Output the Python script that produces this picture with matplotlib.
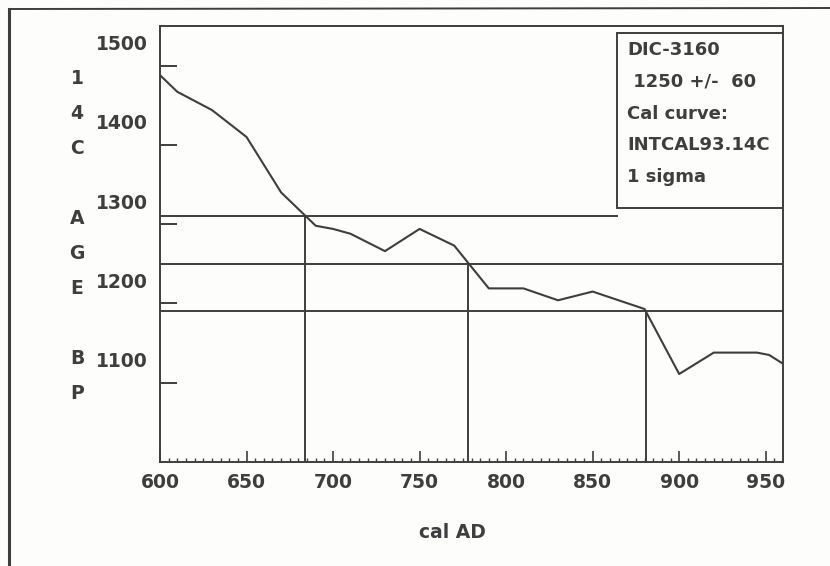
import numpy as np
import matplotlib.pyplot as plt
import matplotlib.transforms as mtransforms
from matplotlib.lines import Line2D
from matplotlib.patches import Rectangle

# Calibration curve (INTCAL93).
cal_ad = [600, 610, 630, 650, 670, 690, 700, 710, 730, 750, 770, 790,
          810, 830, 850, 880, 900, 920, 945, 952, 960]
c14_age = [1488, 1467, 1444, 1410, 1340, 1298, 1294, 1288, 1266, 1294, 1273, 1219,
           1219, 1204, 1215, 1193, 1111, 1138, 1138, 1135, 1124]

# Measured age 1250 +/- 60, 1 sigma band and the intercepts with the curve.
age_levels = [1310, 1250, 1190]
intercepts = [684, 778, 881]

x_ticks = [600, 650, 700, 750, 800, 850, 900, 950]
y_ticks = [1100, 1200, 1300, 1400, 1500]
info_lines = ['DIC-3160', ' 1250 +/-  60', 'Cal curve:', 'INTCAL93.14C', '1 sigma']

ink = '#3e3e3e'
W, H = 830, 566

fig = plt.figure(figsize=(8.3, 5.66), dpi=100, facecolor='#fdfdfb')
ax = fig.add_axes([160 / W, 1 - 462 / H, 623 / W, 436 / H])
ax.set_facecolor('#fdfdfb')

# Outer frame (left and top edges of the scanned page).
fig.add_artist(Line2D([9 / W, 9 / W], [0, 1 - 9 / H], color=ink, lw=2.2))
fig.add_artist(Line2D([9 / W, 1], [1 - 9 / H, 1 - 8 / H], color=ink, lw=1.4))

ax.plot(cal_ad, c14_age, color=ink, lw=1.5)

# Info box in the upper right corner.
box_x0, box_y0, box_y1 = (617 - 160) / 623, (462 - 208) / 436, (462 - 33) / 436
ax.add_patch(Rectangle((box_x0, box_y0), 1 - box_x0, box_y1 - box_y0,
                       transform=ax.transAxes, fill=False, ec=ink, lw=1.4, zorder=5))
for i, line in enumerate(info_lines):
    ax.text((627 - 160) / 623, (462 - 50 - i * 31.8) / 436, line, transform=ax.transAxes,
            ha='left', va='center', fontsize=13, fontweight='bold', color=ink)

# Horizontal lines for the age and its 1 sigma limits; the upper stops at the box.
ax.axhline(age_levels[0], xmin=0, xmax=box_x0, color=ink, lw=1.4)
ax.axhline(age_levels[1], color=ink, lw=1.4)
ax.axhline(age_levels[2], color=ink, lw=1.4)
for x, y in zip(intercepts, age_levels):
    ax.vlines(x, 1000, y, color=ink, lw=1.4)

ax.set_xlim(600, 960)
ax.set_ylim(1000, 1550)

ax.set_xticks(x_ticks)
ax.set_xticks(np.arange(605, 960, 5), minor=True)
ax.set_yticks(y_ticks)
ax.tick_params(axis='x', which='major', direction='in', length=8, width=1.2,
               color=ink, pad=8, labelsize=13.5, labelcolor=ink)
ax.tick_params(axis='x', which='minor', direction='in', length=3.2, width=1.0, color=ink)
ax.tick_params(axis='y', which='major', direction='in', length=12, width=1.4,
               color=ink, pad=9, labelsize=13.5, labelcolor=ink)
for lab in ax.get_xticklabels() + ax.get_yticklabels():
    lab.set_fontweight('bold')
# the old program prints the y labels about 23 px above their ticks
shift = mtransforms.ScaledTranslation(0, 23 / 100, fig.dpi_scale_trans)
for lab in ax.get_yticklabels():
    lab.set_transform(lab.get_transform() + shift)

for s in ax.spines.values():
    s.set_color(ink)
    s.set_linewidth(1.4)

ax.set_xlabel('cal AD', fontsize=13.5, fontweight='bold', color=ink, va='center')
ax.xaxis.set_label_coords((452 - 160) / 623, (462 - 532) / 436)

# Stacked letters of the y axis title.
fig.text(77 / W, 1 - 236 / H, '1\n4\nC\n\nA\nG\nE\n\nB\nP', ha='center', va='center',
         fontsize=13.5, fontweight='bold', color=ink, linespacing=2.06)

fig.savefig('out.png', dpi=100, facecolor=fig.get_facecolor())
